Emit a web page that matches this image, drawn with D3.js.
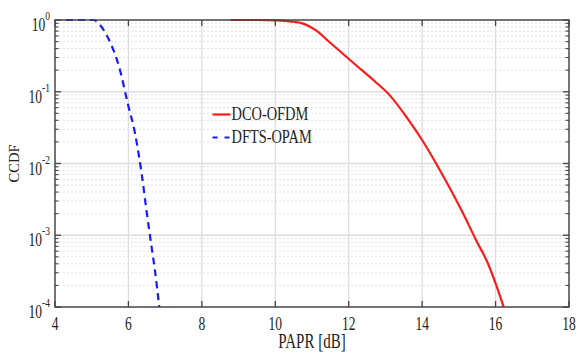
<!DOCTYPE html>
<html>
<head>
<meta charset="utf-8">
<script src="https://cdn.jsdelivr.net/npm/d3@7"></script>
<style>
  html, body { margin: 0; padding: 0; background: #fff; }
  svg { display: block; }
  text { font-family: "Liberation Serif", "Times New Roman", serif; fill: #222; }
</style>
</head>
<body>
<svg id="chart" width="578" height="354"></svg>
<script>
// CCDF of PAPR for the two modulation schemes
const dcoPapr = [8.78, 9.5, 10.0, 10.4, 10.76, 11.1, 11.48, 12.2, 12.7, 13.1, 13.57, 14.02, 14.48, 15.11, 15.48, 15.79, 16.02, 16.22];
const dcoCcdf = [1, 1, 0.9886, 0.959, 0.891, 0.7244, 0.4898, 0.2344, 0.1413, 0.0912, 0.0447, 0.0204, 0.00813, 0.00204, 0.000832, 0.000407, 0.0001995, 0.0001];

const dftsPapr = [4.3, 5.05, 5.2, 5.45, 5.77, 5.98, 6.18, 6.29, 6.36, 6.49, 6.63, 6.72, 6.84];
const dftsCcdf = [1, 1, 0.88, 0.556, 0.201, 0.069, 0.0263, 0.0124, 0.00724, 0.00224, 0.00069, 0.00033, 0.0001];

const seriesNames = ["DCO-OFDM", "DFTS-OPAM"];
const xTicks = [4, 6, 8, 10, 12, 14, 16, 18];
const yExponents = [0, -1, -2, -3, -4];
const xTitle = "PAPR [dB]";
const yTitle = "CCDF";

const svg = d3.select("#chart");
const m = { left: 55, right: 569, top: 20, bottom: 307 };
const stretch = 1.35;

const x = d3.scaleLinear().domain([4, 18]).range([m.left, m.right]);
const y = d3.scaleLog().domain([1e-4, 1]).range([m.bottom, m.top]);

// minor decade values 2..9 x 10^k
const minorY = [];
for (let k = -4; k < 0; k++) for (let j = 2; j <= 9; j++) minorY.push(j * Math.pow(10, k));

const grid = svg.append("g");
grid.selectAll(".minor").data(minorY).join("line")
  .attr("x1", m.left).attr("x2", m.right)
  .attr("y1", d => y(d)).attr("y2", d => y(d))
  .attr("stroke", "#e2e2e2").attr("stroke-width", 1).attr("stroke-dasharray", "2,2");
grid.selectAll(".majorY").data(yExponents).join("line")
  .attr("x1", m.left).attr("x2", m.right)
  .attr("y1", d => y(Math.pow(10, d))).attr("y2", d => y(Math.pow(10, d)))
  .attr("stroke", "#dddddd").attr("stroke-width", 1.5);
grid.selectAll(".majorX").data(xTicks).join("line")
  .attr("x1", d => x(d)).attr("x2", d => x(d))
  .attr("y1", m.top).attr("y2", m.bottom)
  .attr("stroke", "#dddddd").attr("stroke-width", 1.3);

// data curves, clipped to the axes box
svg.append("clipPath").attr("id", "plotclip").append("rect")
  .attr("x", m.left).attr("y", m.top - 2).attr("width", m.right - m.left).attr("height", m.bottom - m.top + 2);

const line = d3.line().x(d => x(d[0])).y(d => y(d[1])).curve(d3.curveMonotoneX);
const curves = svg.append("g").attr("clip-path", "url(#plotclip)");
curves.append("path")
  .datum(dcoPapr.map((v, i) => [v, dcoCcdf[i]]))
  .attr("d", line).attr("fill", "none").attr("stroke", "#ff1a1a").attr("stroke-width", 2.2);
curves.append("path")
  .datum(dftsPapr.map((v, i) => [v, dftsCcdf[i]]))
  .attr("d", line).attr("fill", "none").attr("stroke", "#1a1aff").attr("stroke-width", 2.2)
  .attr("stroke-dasharray", "7,5");

// axes box with inward ticks
const axisColor = "#444";
const box = svg.append("g").attr("stroke", axisColor).attr("fill", "none");
box.append("rect").attr("x", m.left).attr("y", m.top).attr("width", m.right - m.left).attr("height", m.bottom - m.top)
  .attr("stroke-width", 1.4);
box.selectAll(".xb").data(xTicks).join("line")
  .attr("x1", d => x(d)).attr("x2", d => x(d)).attr("y1", m.bottom).attr("y2", m.bottom - 6).attr("stroke-width", 1.3);
box.selectAll(".xt").data(xTicks).join("line")
  .attr("x1", d => x(d)).attr("x2", d => x(d)).attr("y1", m.top).attr("y2", m.top + 6).attr("stroke-width", 1.3);
box.selectAll(".yl").data(yExponents).join("line")
  .attr("x1", m.left).attr("x2", m.left + 6).attr("y1", d => y(Math.pow(10, d))).attr("y2", d => y(Math.pow(10, d))).attr("stroke-width", 1.3);
box.selectAll(".yr").data(yExponents).join("line")
  .attr("x1", m.right).attr("x2", m.right - 6).attr("y1", d => y(Math.pow(10, d))).attr("y2", d => y(Math.pow(10, d))).attr("stroke-width", 1.3);
box.selectAll(".yml").data(minorY).join("line")
  .attr("x1", m.left).attr("x2", m.left + 3.5).attr("y1", d => y(d)).attr("y2", d => y(d)).attr("stroke-width", 1.1);
box.selectAll(".ymr").data(minorY).join("line")
  .attr("x1", m.right).attr("x2", m.right - 3.5).attr("y1", d => y(d)).attr("y2", d => y(d)).attr("stroke-width", 1.1);

// text drawn with a slight vertical stretch
function stretched(g, px, py) {
  return g.append("text").attr("transform", `translate(${px},${py}) scale(1,${stretch})`);
}

// x tick labels
xTicks.forEach(t => {
  stretched(svg, x(t), 330).attr("text-anchor", "middle").attr("font-size", 13.5).text(t);
});

// y tick labels as 10^k
yExponents.forEach(e => {
  const yy = y(Math.pow(10, e));
  const t = stretched(svg, 50, yy + 11).attr("text-anchor", "end").attr("font-size", 13.5);
  t.append("tspan").text("10");
  t.append("tspan").attr("font-size", 9.5).attr("dy", -8).text(e);
});

// axis titles
stretched(svg, (m.left + m.right) / 2, 348).attr("text-anchor", "middle").attr("font-size", 15).text(xTitle);
svg.append("text")
  .attr("transform", `translate(19,${(m.top + m.bottom) / 2}) rotate(-90)`)
  .attr("text-anchor", "middle").attr("font-size", 14.5).text(yTitle);

// legend
const legend = svg.append("g");
const legendRows = [
  { name: seriesNames[0], color: "#ff1a1a", dash: null, y: 114.5 },
  { name: seriesNames[1], color: "#1a1aff", dash: "5,7", y: 137.5 }
];
legendRows.forEach(r => {
  legend.append("line").attr("x1", 212.5).attr("x2", 230.5).attr("y1", r.y).attr("y2", r.y)
    .attr("stroke", r.color).attr("stroke-width", 2.2).attr("stroke-dasharray", r.dash);
  stretched(legend, 231.5, r.y + 5.5).attr("font-size", 14.4).text(r.name);
});
</script>
</body>
</html>
